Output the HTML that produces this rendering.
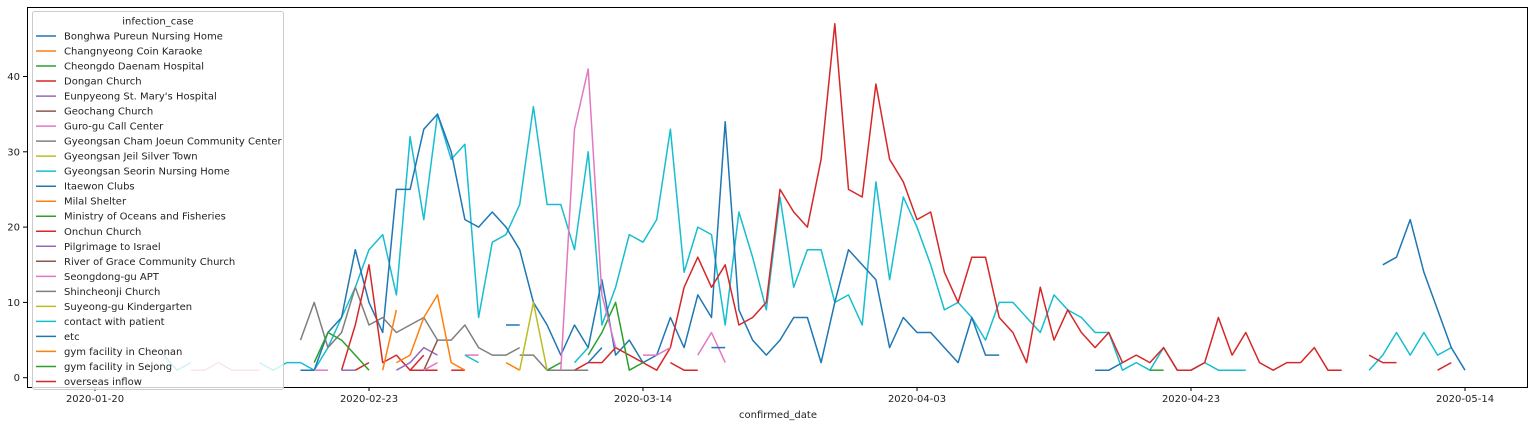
<!DOCTYPE html>
<html><head><meta charset="utf-8"><style>
body{margin:0;background:#fff;}
svg{display:block;font-family:"DejaVu Sans","Liberation Sans",sans-serif;}
</style></head><body>
<svg id="chart" width="1540" height="426"></svg>
<script>
const tickLabels=["2020-01-20","2020-02-23","2020-03-14","2020-04-03","2020-04-23","2020-05-14"];
const tickIdx=[0,20,40,60,80,100];
const yTicks=[0,10,20,30,40];
const names=["Bonghwa Pureun Nursing Home","Changnyeong Coin Karaoke","Cheongdo Daenam Hospital","Dongan Church","Eunpyeong St. Mary's Hospital","Geochang Church","Guro-gu Call Center","Gyeongsan Cham Joeun Community Center","Gyeongsan Jeil Silver Town","Gyeongsan Seorin Nursing Home","Itaewon Clubs","Milal Shelter","Ministry of Oceans and Fisheries","Onchun Church","Pilgrimage to Israel","River of Grace Community Church","Seongdong-gu APT","Shincheonji Church","Suyeong-gu Kindergarten","contact with patient","etc","gym facility in Cheonan","gym facility in Sejong","overseas inflow"];
const colors=["#1f77b4","#ff7f0e","#2ca02c","#d62728","#9467bd","#8c564b","#e377c2","#7f7f7f","#bcbd22","#17becf"];
const contactVals=[3,1,2,null,null,null,null,2,1,2,2,1,4,8,12,17,19,11,32,21,35,29,31,8,18,19,23,36,23,23,17,30,7,12,19,18,21,33,14,20,19,7,22,16,9,24,12,17,17,10,11,7,26,13,24,20,15,9,10,8,5,10,10,8,6,11,9,8,6,6,1,2,1,4,1,1,2,1,1,1,null,null,null,null,null,null,null,null,1,3,6,3,6,3,4];
const etcVals=[1,1,6,8,17,10,6,25,25,33,35,30,21,20,22,20,17,10,7,3,7,4,13,3,5,2,3,8,4,11,8,34,9,5,3,5,8,8,2,10,17,15,13,4,8,6,6,4,2,8,3,3];
const overseasVals=[1,1,1,2,2,4,3,2,1,4,12,16,12,15,7,8,10,25,22,20,29,47,25,24,39,29,26,21,22,14,10,16,16,8,6,2,12,5,9,6,4,6,2,3,2,4,1,1,2,8,3,6,2,1,2,2,4,1,1,null,3,2,2,null,null,1,2];
const itaewonVals=[15,16,21,14,9,4,1];
const shincheonjiVals=[5,10,4,6,12,7,8,6,7,8,5,5,7,4,3,3,4];
const donganVals=[1,7,15,2,3,1,1,1];
const guroVals=[1,33,41,11,4];
const segments=[
 [19,5,contactVals],[20,15,etcVals],[23,33,overseasVals],[10,94,itaewonVals],[17,15,shincheonjiVals],
 [3,18,donganVals],[13,19,[1,2]],[13,23,[1,3]],[13,26,[1,1]],[13,42,[2,1,1]],
 [7,31,[3,3,1,1,1,1]],[2,16,[2,6,5,3,1]],[12,33,[1,2]],[12,36,[3,6,10,1,2]],[22,77,[1,1]],
 [1,21,[1,9]],[21,22,[2,3,8,11,2,1]],[11,30,[2,1]],[8,31,[1,10,1]],
 [4,22,[1,2,4,3]],[14,18,[1,1]],[5,24,[1,5]],
 [6,34,guroVals],[16,40,[3,3,4]],[16,44,[3,6,2]],[6,24,[1,2]],[16,27,[3,3]],[6,16,[1,1]],[6,7,[1,1,2,1,1,1]],
 [9,27,[3,2]],[9,35,[2,4]],[10,30,[7,7]],[0,36,[2,4]],[0,45,[4,4]],[0,73,[1,1,2]]
];
const NS="http://www.w3.org/2000/svg";
const svg=document.getElementById('chart');
const X0=95,DX=13.7,Y0=377.7,DY=7.53;
const xs=i=>X0+i*DX, ys=v=>Y0-v*DY;
function mk(tag,attrs,parent){const e=document.createElementNS(NS,tag);for(const k in attrs)e.setAttribute(k,attrs[k]);(parent||svg).appendChild(e);return e;}
const plot=mk('g',{});


segments.forEach((s)=>{
  const [si,st,vals]=s;let d='',pen=false;
  vals.forEach((v,k)=>{if(v===null){pen=false;return;}d+=(pen?'L':'M')+xs(st+k).toFixed(1)+' '+ys(v).toFixed(1);pen=true;});
  const p=mk('path',{d:d,fill:'none',stroke:colors[si%10],'stroke-width':1.5,'stroke-linejoin':'round'},plot);
  
  
});
const frame=mk('rect',{x:27.5,y:7.5,width:1500,height:380,fill:'none',stroke:'#000','stroke-width':1});


yTicks.forEach(t=>{const y=ys(t);
  const l=mk('line',{x1:23,x2:27,y1:y,y2:y,stroke:'#000'});
  
  
  const tx=mk('text',{x:20,y:y+3.5,'font-size':10,'text-anchor':'end',fill:'#222'});tx.textContent=t;
  
  
});
tickIdx.forEach((t,k)=>{const x=xs(t);
  const l=mk('line',{x1:x,x2:x,y1:387,y2:391,stroke:'#000'});
  
  
  const tx=mk('text',{x:x,y:402,'font-size':10,'text-anchor':'middle',fill:'#222'});tx.textContent=tickLabels[k];
  
  
});
const xl=mk('text',{x:778,y:418,'font-size':10,'text-anchor':'middle',fill:'#222'});xl.textContent='confirmed_date';


const lg=mk('g',{});


mk('rect',{x:32.5,y:11.5,width:251,height:378,rx:2,fill:'#fff','fill-opacity':0.8,stroke:'#ccc'},lg);
const lt=mk('text',{x:158,y:24.5,'font-size':10,'text-anchor':'middle',fill:'#222'},lg);lt.textContent='infection_case';


names.forEach((n,k)=>{const y=36+k*15.02;
  const g=mk('g',{},lg);
  
  
  mk('line',{x1:36,x2:56,y1:y,y2:y,stroke:colors[k%10],'stroke-width':1.5},g);
  const t=mk('text',{x:64,y:y+3.5,'font-size':10,fill:'#222'},g);t.textContent=n;
});
</script>
</body></html>
